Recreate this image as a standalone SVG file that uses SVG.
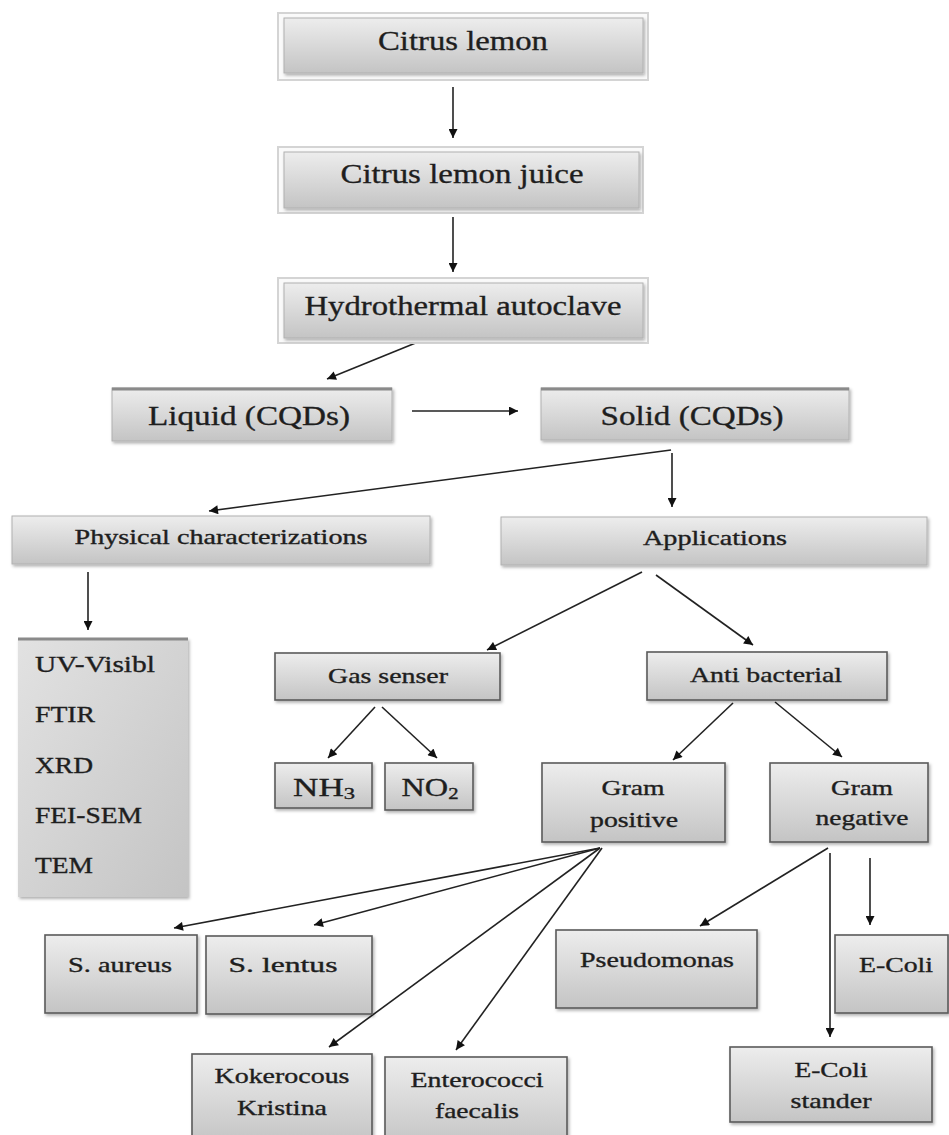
<svg xmlns="http://www.w3.org/2000/svg" width="949" height="1135" viewBox="0 0 949 1135">
<style>
text{font-family:"Liberation Serif","Times New Roman",serif;fill:#1e1e1e;stroke:#1e1e1e;stroke-width:0.35;text-anchor:middle}
.big{font-size:28px}
.mid{font-size:21px}
.lst{font-size:23px;text-anchor:start}
.frame{fill:#fafafa;stroke:#d4d4d4;stroke-width:2}
.soft{fill:url(#g);stroke:#b0b0b0;stroke-width:1;filter:url(#sh)}
.bord{fill:url(#g);stroke:#5a5a5a;stroke-width:1.6;filter:url(#sh)}
.topline{stroke:#8a8a8a;stroke-width:3}
.c line{stroke:#222;stroke-width:1.6;marker-end:url(#ah)}
</style>
<defs>
<linearGradient id="g" x1="0" y1="0" x2="0" y2="1">
<stop offset="0" stop-color="#ededed"/>
<stop offset="1" stop-color="#c4c4c4"/>
</linearGradient>
<linearGradient id="gl" x1="0" y1="0" x2="1" y2="1">
<stop offset="0" stop-color="#e2e2e2"/>
<stop offset="1" stop-color="#c4c4c4"/>
</linearGradient>
<filter id="sh" x="-10%" y="-10%" width="120%" height="130%">
<feDropShadow dx="1.5" dy="2" stdDeviation="1.5" flood-color="#000" flood-opacity="0.3"/>
</filter>
<marker id="ah" viewBox="0 0 10 10" refX="10" refY="5" markerWidth="10" markerHeight="9" markerUnits="userSpaceOnUse" orient="auto">
<path d="M0,0 L10,5 L0,10 z" fill="#111"/>
</marker>
</defs>

<g id="connectors" class="c">
<line x1="453" y1="87" x2="453" y2="138"/>
<line x1="453" y1="217" x2="453" y2="272"/>
<line x1="418" y1="342" x2="327" y2="379"/>
<line x1="412" y1="411" x2="518" y2="411"/>
<line x1="671" y1="450" x2="209" y2="511"/>
<line x1="672" y1="453" x2="672" y2="507"/>
<line x1="88" y1="572" x2="88" y2="630"/>
<line x1="642" y1="572" x2="487" y2="650"/>
<line x1="656" y1="575" x2="753" y2="645"/>
<line x1="375" y1="707" x2="328" y2="758"/>
<line x1="382" y1="707" x2="437" y2="758"/>
<line x1="733" y1="703" x2="673" y2="760"/>
<line x1="775" y1="702" x2="842" y2="757"/>
<line x1="600" y1="848" x2="174" y2="928"/>
<line x1="600" y1="848" x2="314" y2="925"/>
<line x1="600" y1="848" x2="329" y2="1047"/>
<line x1="602" y1="848" x2="456" y2="1050"/>
<line x1="828" y1="848" x2="700" y2="926"/>
<line x1="830" y1="853" x2="830" y2="1037"/>
<line x1="870" y1="858" x2="870" y2="925"/>
</g>

<g id="n-citrus-lemon">
<rect class="frame" x="278" y="13" width="370" height="67"/>
<rect class="soft" x="284" y="18" width="359" height="55"/>
<text class="big" x="463" y="50" textLength="170" lengthAdjust="spacingAndGlyphs">Citrus lemon</text>
</g>
<g id="n-juice">
<rect class="frame" x="278" y="147" width="365" height="66"/>
<rect class="soft" x="284" y="152" width="355" height="56"/>
<text class="big" x="462" y="183" textLength="243" lengthAdjust="spacingAndGlyphs">Citrus lemon juice</text>
</g>
<g id="n-hydro">
<rect class="frame" x="278" y="278" width="370" height="65"/>
<rect class="soft" x="284" y="283" width="359" height="55"/>
<text class="big" x="463" y="315" textLength="317" lengthAdjust="spacingAndGlyphs">Hydrothermal autoclave</text>
</g>
<g id="n-liquid">
<rect class="soft" x="112" y="388" width="280" height="53"/>
<line class="topline" x1="112" y1="389" x2="392" y2="389"/>
<text class="big" x="249" y="425" textLength="202" lengthAdjust="spacingAndGlyphs">Liquid (CQDs)</text>
</g>
<g id="n-solid">
<rect class="soft" x="541" y="388" width="308" height="52"/>
<line class="topline" x1="541" y1="389" x2="849" y2="389"/>
<text class="big" x="692" y="425" textLength="183" lengthAdjust="spacingAndGlyphs">Solid (CQDs)</text>
</g>
<g id="n-physical">
<rect class="soft" x="12" y="516" width="418" height="48"/>
<text class="mid" x="221" y="544" textLength="293" lengthAdjust="spacingAndGlyphs">Physical characterizations</text>
</g>
<g id="n-applications">
<rect class="soft" x="501" y="517" width="426" height="48"/>
<text class="mid" x="715" y="545" textLength="144" lengthAdjust="spacingAndGlyphs">Applications</text>
</g>
<g id="n-list">
<rect x="18" y="638" width="170" height="259" fill="url(#gl)" filter="url(#sh)"/>
<line class="topline" x1="18" y1="639" x2="188" y2="639"/>
<text class="lst" x="35" y="672" textLength="120" lengthAdjust="spacingAndGlyphs">UV-Visibl</text>
<text class="lst" x="35" y="722" textLength="60" lengthAdjust="spacingAndGlyphs">FTIR</text>
<text class="lst" x="35" y="773" textLength="58" lengthAdjust="spacingAndGlyphs">XRD</text>
<text class="lst" x="35" y="823" textLength="107" lengthAdjust="spacingAndGlyphs">FEI-SEM</text>
<text class="lst" x="35" y="873" textLength="58" lengthAdjust="spacingAndGlyphs">TEM</text>
</g>
<g id="n-gas">
<rect class="bord" x="275" y="653" width="225" height="47"/>
<text class="mid" x="388" y="683" textLength="120" lengthAdjust="spacingAndGlyphs">Gas senser</text>
</g>
<g id="n-nh3">
<rect class="bord" x="275" y="763" width="97" height="45"/>
<text x="324" y="796" font-size="25" textLength="62" lengthAdjust="spacingAndGlyphs">NH<tspan font-size="16" dy="3">3</tspan></text>
</g>
<g id="n-no2">
<rect class="bord" x="385" y="763" width="88" height="47"/>
<text x="430" y="796" font-size="25" textLength="57" lengthAdjust="spacingAndGlyphs">NO<tspan font-size="16" dy="3">2</tspan></text>
</g>
<g id="n-anti">
<rect class="bord" x="647" y="652" width="240" height="48"/>
<text class="mid" x="766" y="682" textLength="152" lengthAdjust="spacingAndGlyphs">Anti bacterial</text>
</g>
<g id="n-gram-pos">
<rect class="bord" x="542" y="763" width="183" height="79"/>
<text class="mid" x="633" y="795" textLength="63" lengthAdjust="spacingAndGlyphs">Gram</text>
<text class="mid" x="634" y="827" textLength="88" lengthAdjust="spacingAndGlyphs">positive</text>
</g>
<g id="n-gram-neg">
<rect class="bord" x="770" y="763" width="158" height="79"/>
<text class="mid" x="862" y="795" textLength="62" lengthAdjust="spacingAndGlyphs">Gram</text>
<text class="mid" x="862" y="825" textLength="93" lengthAdjust="spacingAndGlyphs">negative</text>
</g>
<g id="n-aureus">
<rect class="bord" x="45" y="935" width="152" height="78"/>
<text class="mid" x="120" y="972" textLength="104" lengthAdjust="spacingAndGlyphs">S. aureus</text>
</g>
<g id="n-lentus">
<rect class="bord" x="206" y="936" width="166" height="78"/>
<text class="mid" x="283" y="972" textLength="109" lengthAdjust="spacingAndGlyphs">S. lentus</text>
</g>
<g id="n-kokerocous">
<rect class="bord" x="192" y="1054" width="180" height="90"/>
<text class="mid" x="282" y="1083" textLength="135" lengthAdjust="spacingAndGlyphs">Kokerocous</text>
<text class="mid" x="282" y="1115" textLength="90" lengthAdjust="spacingAndGlyphs">Kristina</text>
</g>
<g id="n-enterococci">
<rect class="bord" x="385" y="1057" width="182" height="90"/>
<text class="mid" x="477" y="1087" textLength="133" lengthAdjust="spacingAndGlyphs">Enterococci</text>
<text class="mid" x="477" y="1118" textLength="84" lengthAdjust="spacingAndGlyphs">faecalis</text>
</g>
<g id="n-pseudomonas">
<rect class="bord" x="556" y="930" width="201" height="78"/>
<text class="mid" x="657" y="967" textLength="154" lengthAdjust="spacingAndGlyphs">Pseudomonas</text>
</g>
<g id="n-ecoli">
<rect class="bord" x="835" y="935" width="113" height="78"/>
<text class="mid" x="896" y="972" textLength="74" lengthAdjust="spacingAndGlyphs">E-Coli</text>
</g>
<g id="n-ecoli-stander">
<rect class="bord" x="730" y="1047" width="202" height="75"/>
<text class="mid" x="831" y="1077" textLength="73" lengthAdjust="spacingAndGlyphs">E-Coli</text>
<text class="mid" x="831" y="1108" textLength="81" lengthAdjust="spacingAndGlyphs">stander</text>
</g>
</svg>
